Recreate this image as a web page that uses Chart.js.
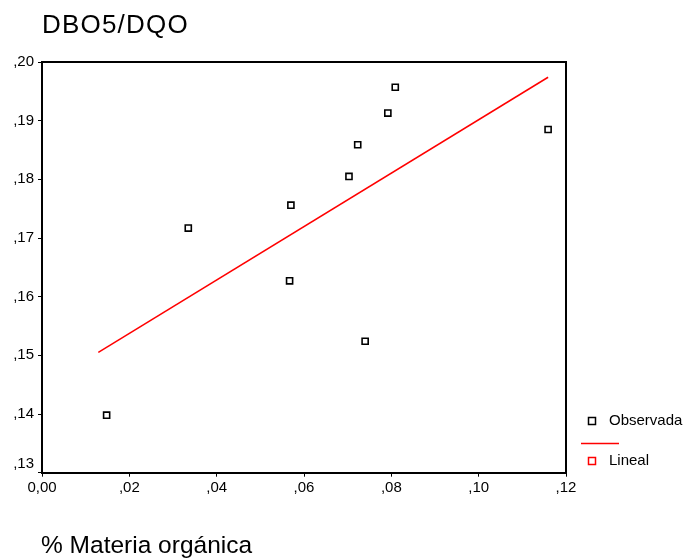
<!DOCTYPE html>
<html>
<head>
<meta charset="utf-8">
<script src="https://cdn.jsdelivr.net/npm/chart.js@4/dist/chart.umd.min.js"></script>
<style>
  html, body { margin: 0; padding: 0; background: #fff; }
  #wrap { width: 687px; height: 559px; position: relative; }
</style>
</head>
<body>
<div id="wrap"><canvas id="dboChart"></canvas></div>
<script>
// materia orgánica (x) vs DBO5/DQO (y)
const obsX = [0.0148, 0.0335, 0.0567, 0.0570, 0.0703, 0.0723, 0.0740, 0.0792, 0.0809, 0.1159];
const obsY = [0.1398, 0.1717, 0.1627, 0.1756, 0.1805, 0.1859, 0.1524, 0.1913, 0.1957, 0.1885];

// recta de ajuste lineal (extremos)
const fitX = [0.0129, 0.1159];
const fitY = [0.1505, 0.1974];

const xTickValues = [0, 0.02, 0.04, 0.06, 0.08, 0.10, 0.12];
const xTickLabels = ["0,00", ",02", ",04", ",06", ",08", ",10", ",12"];
const yTickValues = [0.13, 0.14, 0.15, 0.16, 0.17, 0.18, 0.19, 0.20];
const yTickLabels = [",13", ",14", ",15", ",16", ",17", ",18", ",19", ",20"];

const chartTitle = "DBO5/DQO";
const xTitle = "% Materia orgánica";
const legendNames = ["Observada", "Lineal"];

const FONT = "'Liberation Sans', Arial, sans-serif";

const observed = obsX.map((x, i) => ({ x: x, y: obsY[i] }));
const fitted = fitX.map((x, i) => ({ x: x, y: fitY[i] }));

// titulos, marco y leyenda al estilo SPSS
const spssDecor = {
    id: "spssDecor",
    afterDraw(chart) {
        const ctx = chart.ctx;
        const a = chart.chartArea;
        ctx.save();

        ctx.strokeStyle = "#000";
        ctx.lineWidth = 2;
        ctx.beginPath();
        ctx.moveTo(a.left, a.top);
        ctx.lineTo(a.right, a.top);
        ctx.lineTo(a.right, a.bottom);
        ctx.stroke();

        ctx.fillStyle = "#000";
        ctx.textBaseline = "alphabetic";
        ctx.textAlign = "left";
        ctx.font = "26px " + FONT;
        ctx.letterSpacing = "1.2px";
        ctx.fillText(chartTitle, 42, 33);
        ctx.letterSpacing = "0px";
        ctx.font = "24.5px " + FONT;
        ctx.fillText(xTitle, 41, 553);

        // la etiqueta inferior del eje y va algo por encima del eje
        ctx.font = "15px " + FONT;
        ctx.textBaseline = "middle";
        ctx.textAlign = "right";
        ctx.fillText(yTickLabels[0], a.left - 8, a.bottom - 9);
        ctx.textAlign = "left";

        // leyenda
        ctx.lineWidth = 1.5;
        ctx.fillStyle = "#fff";
        ctx.strokeStyle = "#000";
        ctx.fillRect(588.5, 417.5, 7, 7);
        ctx.strokeRect(588.5, 417.5, 7, 7);
        ctx.fillStyle = "#000";
        ctx.fillText(legendNames[0], 609, 421);

        ctx.strokeStyle = "#ff0000";
        ctx.beginPath();
        ctx.moveTo(581, 443.5);
        ctx.lineTo(619, 443.5);
        ctx.stroke();

        ctx.fillStyle = "#fff";
        ctx.fillRect(588.5, 457.5, 7, 7);
        ctx.strokeRect(588.5, 457.5, 7, 7);
        ctx.fillStyle = "#000";
        ctx.fillText(legendNames[1], 609, 461);

        ctx.restore();
    }
};

const ctx = document.getElementById("dboChart").getContext("2d");

new Chart(ctx, {
    type: "scatter",
    data: {
        datasets: [{
            label: legendNames[1],
            type: "line",
            data: fitted,
            borderColor: "#ff0000",
            borderWidth: 1.5,
            pointRadius: 0,
            fill: false,
            tension: 0,
            order: 2
        }, {
            label: legendNames[0],
            data: observed,
            pointStyle: "rect",
            pointRadius: 4.3,
            pointHoverRadius: 4.3,
            borderWidth: 1.6,
            borderColor: "#000",
            backgroundColor: "#fff",
            order: 1
        }]
    },
    options: {
        responsive: true,
        maintainAspectRatio: false,
        animation: false,
        events: [],
        layout: {
            padding: { top: 62, left: 0, right: 121, bottom: 0 }
        },
        plugins: {
            legend: { display: false },
            title: { display: false },
            tooltip: { enabled: false }
        },
        scales: {
            x: {
                type: "linear",
                min: 0,
                max: 0.12,
                afterBuildTicks: function (s) {
                    s.ticks = xTickValues.map(v => ({ value: v }));
                },
                afterFit: function (s) {
                    s.height = 86.3;
                },
                grid: {
                    drawOnChartArea: false,
                    drawTicks: true,
                    tickLength: 4,
                    color: "#000",
                    lineWidth: 1
                },
                border: { display: true, color: "#000", width: 2 },
                ticks: {
                    autoSkip: false,
                    maxRotation: 0,
                    padding: 2,
                    color: "#000",
                    font: { family: FONT, size: 15 },
                    callback: function (v, i) { return xTickLabels[i]; }
                }
            },
            y: {
                type: "linear",
                min: 0.13,
                max: 0.20,
                afterBuildTicks: function (s) {
                    s.ticks = yTickValues.map(v => ({ value: v }));
                },
                afterFit: function (s) {
                    s.width = 42;
                },
                grid: {
                    drawOnChartArea: false,
                    drawTicks: true,
                    tickLength: 4,
                    color: "#000",
                    lineWidth: 1
                },
                border: { display: true, color: "#000", width: 2 },
                ticks: {
                    autoSkip: false,
                    padding: 4,
                    color: "#000",
                    font: { family: FONT, size: 15 },
                    // ",13" se dibuja aparte, desplazada hacia arriba
                    callback: function (v, i) { return i === 0 ? "" : yTickLabels[i]; }
                }
            }
        }
    },
    plugins: [spssDecor]
});
</script>
</body>
</html>
